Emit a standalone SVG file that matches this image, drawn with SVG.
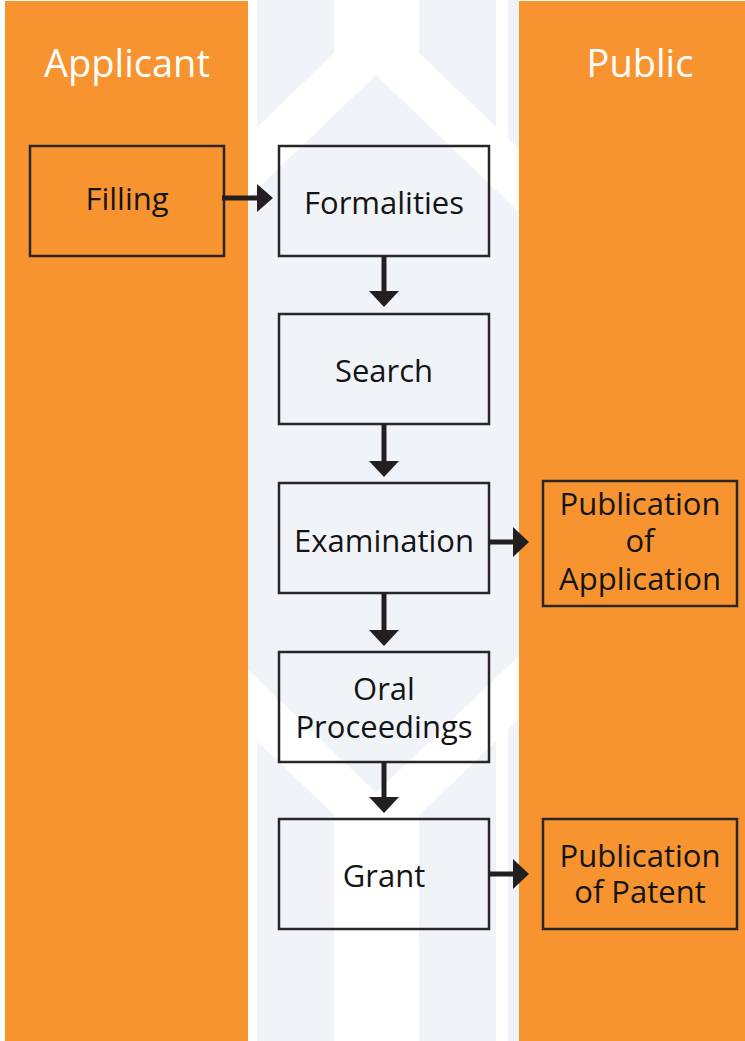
<svg xmlns="http://www.w3.org/2000/svg" width="745" height="1041" viewBox="0 0 745 1041">
  <style>
    .lane { fill: #F7942F; }
    .bg { fill: #F0F4F8; }
    .white { fill: #FFFFFF; }
    .box { fill: none; stroke: #2A2627; stroke-width: 2.5; }
    .lbl { font-family: "Open Sans", "Noto Sans", sans-serif; font-size: 31px; fill: #141414; text-anchor: middle; }
    .head { font-family: "Open Sans", "Noto Sans", sans-serif; font-size: 38px; font-weight: 400; fill: #FFFFFF; text-anchor: middle; }
    .conn line { stroke: #231F20; stroke-width: 5; }
    .conn polygon { fill: #231F20; }
  </style>
  <rect x="0" y="0" width="745" height="1041" fill="#FFFFFF"/>
  <!-- lanes -->
  <g id="lane-applicant">
    <rect class="lane" x="5" y="1" width="243" height="1040"/>
    <text class="head" x="127" y="77">Applicant</text>
  </g>
  <g id="lane-public">
    <rect class="lane" x="519" y="1" width="226" height="1040"/>
    <text class="head" x="640" y="77">Public</text>
  </g>
  <!-- office background pattern -->
  <g id="office-background">
    <rect class="bg" x="257" y="0" width="77" height="1041"/>
    <rect class="bg" x="419" y="0" width="77" height="1041"/>
    <rect class="bg" x="508" y="0" width="11" height="1041"/>
    <polygon class="white" points="334,0 419,0 419,53 519,149 519,212 376,75 248,198 248,136 334,53"/>
    <polygon class="bg" points="248,198 376,75 519,212 519,656 376,793 248,670"/>
    <polygon class="white" points="248,670 376,793 519,656 519,719 419,815 419,1041 334,1041 334,815 248,732"/>
    <rect class="white" x="248" y="732" width="9" height="309"/>
    <rect class="white" x="496" y="735" width="12" height="306"/>
  </g>
  <!-- nodes -->
  <g id="node-filling">
    <rect class="box" x="30" y="146" width="194" height="110"/>
    <text class="lbl" x="127" y="210">Filling</text>
  </g>
  <g id="node-formalities">
    <rect class="box" x="279" y="146" width="210" height="110"/>
    <text class="lbl" x="384" y="214">Formalities</text>
  </g>
  <g id="node-search">
    <rect class="box" x="279" y="314" width="210" height="110"/>
    <text class="lbl" x="384" y="382">Search</text>
  </g>
  <g id="node-examination">
    <rect class="box" x="279" y="483" width="210" height="110"/>
    <text class="lbl" x="384" y="552">Examination</text>
  </g>
  <g id="node-oral">
    <rect class="box" x="279" y="652" width="210" height="110"/>
    <text class="lbl" x="384" y="700">Oral<tspan x="384" dy="38">Proceedings</tspan></text>
  </g>
  <g id="node-grant">
    <rect class="box" x="279" y="819" width="210" height="110"/>
    <text class="lbl" x="384" y="887">Grant</text>
  </g>
  <g id="node-pub-application">
    <rect class="box" x="543" y="481" width="194" height="125"/>
    <text class="lbl" x="640" y="515">Publication<tspan x="640" dy="37">of</tspan><tspan x="640" dy="38">Application</tspan></text>
  </g>
  <g id="node-pub-patent">
    <rect class="box" x="543" y="819" width="194" height="110"/>
    <text class="lbl" x="640" y="867">Publication<tspan x="640" dy="36">of Patent</tspan></text>
  </g>
  <!-- connectors -->
  <g id="connectors" class="conn">
    <line x1="222" y1="198" x2="259" y2="198"/>
    <polygon points="257,184 273,198 257,212"/>
    <line x1="384" y1="256" x2="384" y2="293"/>
    <polygon points="369,291 399,291 384,307"/>
    <line x1="384" y1="424" x2="384" y2="463"/>
    <polygon points="369,461 399,461 384,477"/>
    <line x1="384" y1="593" x2="384" y2="632"/>
    <polygon points="369,630 399,630 384,646"/>
    <line x1="384" y1="762" x2="384" y2="799"/>
    <polygon points="369,797 399,797 384,813"/>
    <line x1="489" y1="542" x2="515" y2="542"/>
    <polygon points="513,527 529,542 513,557"/>
    <line x1="489" y1="874" x2="515" y2="874"/>
    <polygon points="513,859 529,874 513,889"/>
  </g>
</svg>
